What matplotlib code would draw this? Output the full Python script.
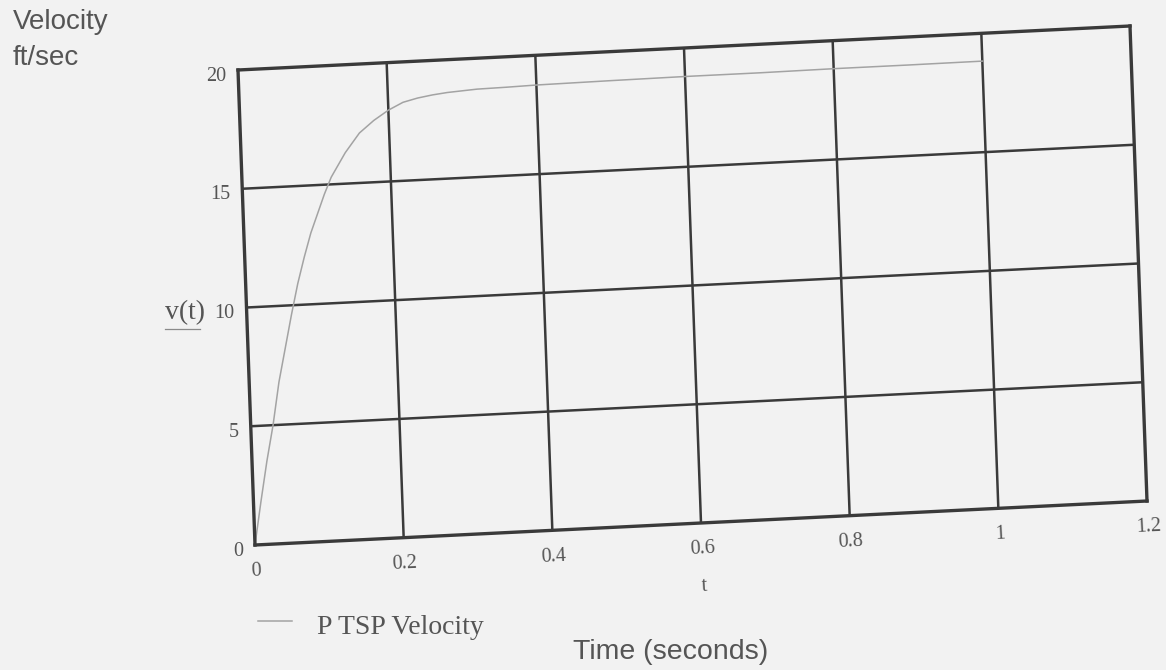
import numpy as np
import matplotlib
matplotlib.use("Agg")
import matplotlib.pyplot as plt
from matplotlib.transforms import Affine2D, ScaledTranslation
import mpl_toolkits.axisartist.floating_axes as floating_axes
from mpl_toolkits.axisartist.grid_finder import FixedLocator, DictFormatter

# P TSP velocity (ft/sec) against time (seconds)
t = [0, 0.01, 0.02, 0.03, 0.04, 0.05, 0.06, 0.07, 0.08, 0.09, 0.10, 0.11,
     0.12, 0.13, 0.14, 0.15, 0.16, 0.18, 0.20, 0.22, 0.24, 0.26, 0.28, 0.32,
     0.36, 0.40, 0.50, 0.60, 0.70, 0.80, 0.90, 1.00]
v = [0, 1.8, 3.5, 5.0, 6.8, 8.2, 9.6, 10.9, 12.0, 13.0, 13.8, 14.6,
     15.3, 15.8, 16.3, 16.7, 17.1, 17.6, 18.0, 18.3, 18.45, 18.55, 18.62, 18.7,
     18.72, 18.75, 18.78, 18.8, 18.8, 18.82, 18.82, 18.83]

t_ticks = [0, 0.2, 0.4, 0.6, 0.8, 1.0, 1.2]
t_labels = ["0", "0.2", "0.4", "0.6", "0.8", "1", "1.2"]
v_ticks = [0, 5, 10, 15, 20]
v_labels = ["0", "5", "10", "15", "20"]

W, H = 1166, 670
bg = "#f2f2f2"
ink = "#3a3a3a"
txt = "#555555"
curve = "#a3a3a3"

fig = plt.figure(figsize=(W / 100, H / 100), dpi=100, facecolor=bg)

# the printed sheet sits a little skewed, so map (t, v) through an affine
skew = Affine2D(np.array([[892 / 1.2, -17 / 20, 0],
                          [44 / 1.2, 475 / 20, 0],
                          [0, 0, 1]]))
helper = floating_axes.GridHelperCurveLinear(
    skew, extremes=(0, 1.2, 0, 20),
    grid_locator1=FixedLocator(t_ticks),
    grid_locator2=FixedLocator(v_ticks),
    tick_formatter1=DictFormatter(dict(zip(t_ticks, t_labels))),
    tick_formatter2=DictFormatter(dict(zip(v_ticks, v_labels))))

# FloatingAxes pads its limits by 2%, so widen the box to match
bw, bh = 909 * 1.02, 519 * 1.02
cx, cy = (238 + 1147) / 2, (125 + 644) / 2
ax = fig.add_axes([(cx - bw / 2) / W, (cy - bh / 2) / H, bw / W, bh / H],
                  axes_class=floating_axes.FloatingAxes, grid_helper=helper)
ax.patch.set_facecolor(bg)
ax.grid(True, color=ink, linewidth=1.8)

for side in ["left", "right", "top", "bottom"]:
    a = ax.axis[side]
    a.line.set_color(ink)
    a.line.set_linewidth(2.4)
    a.major_ticks.set_visible(False)
    a.major_ticklabels.set_fontfamily("Liberation Serif")
    a.major_ticklabels.set_fontsize(14.5)
    a.major_ticklabels.set_color(txt)
for side in ["top", "right", "left"]:
    ax.axis[side].major_ticklabels.set_visible(False)
ax.axis["bottom"].major_ticklabels.set_pad(12)

ax.axis["bottom"].label.set_text("t")
ax.axis["bottom"].label.set_fontfamily("Liberation Serif")
ax.axis["bottom"].label.set_fontsize(14.5)
ax.axis["bottom"].label.set_color(txt)
ax.axis["bottom"].label.set_pad(17)

aux = ax.get_aux_axes(skew)
aux.plot(t, v, color=curve, linewidth=1.1)

# y tick labels sit a little below their grid lines
shift = aux.transData + ScaledTranslation(-0.12, -0.06, fig.dpi_scale_trans)
for val, lab in zip(v_ticks, v_labels):
    aux.text(0, val, lab, transform=shift, ha="right", va="center",
             family="Liberation Serif", fontsize=14.5, color=txt)

# Mathcad-style trace name next to the axis, with its underline
fig.text(165 / W, 1 - 313 / H, "v(t)", family="Liberation Serif",
         fontsize=20, color=txt, ha="left", va="center")
fig.add_artist(plt.Line2D([165 / W, 200 / W], [1 - 329 / H, 1 - 329 / H],
                          color="#8a8a8a", linewidth=0.9))

fig.text(13 / W, 1 - 22 / H, "Velocity", family="Liberation Sans",
         fontsize=20, color=txt, ha="left", va="center")
fig.text(13 / W, 1 - 58 / H, "ft/sec", family="Liberation Sans",
         fontsize=20, color=txt, ha="left", va="center")
fig.text(671 / W, 1 - 652 / H, "Time (seconds)", family="Liberation Sans",
         fontsize=20.5, color=txt, ha="center", va="center")

# legend entry
fig.add_artist(plt.Line2D([258 / W, 292 / W], [1 - 621 / H, 1 - 621 / H],
                          color=curve, linewidth=1.1))
fig.text(317 / W, 1 - 627 / H, "P TSP Velocity", family="Liberation Serif",
         fontsize=20, color=txt, ha="left", va="center")

fig.savefig("out.png", dpi=100, facecolor=bg)
